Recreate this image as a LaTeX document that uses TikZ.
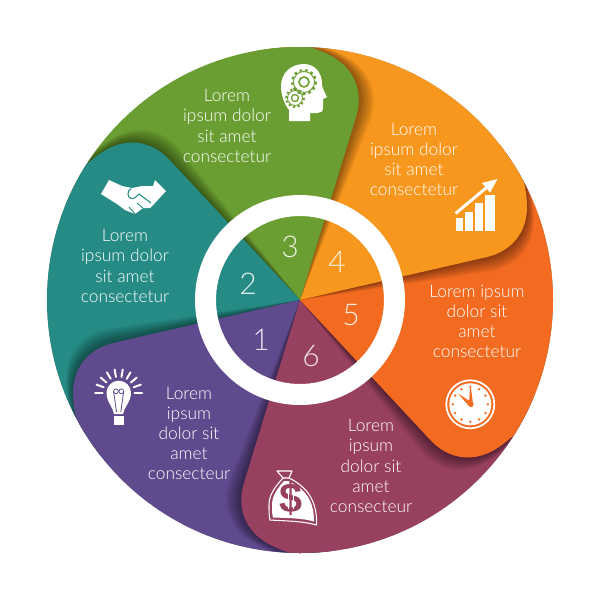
\documentclass[tikz,border=0pt]{standalone}
\usepackage{fontspec}
\setmainfont{Lato Light}
\newfontfamily\boldsign{Liberation Sans}

\definecolor{petalorange}{RGB}{248,151,29}
\definecolor{petalgreen}{RGB}{107,158,50}
\definecolor{petalteal}{RGB}{38,139,132}
\definecolor{petalpurple}{RGB}{96,74,142}
\definecolor{petalmaroon}{RGB}{152,64,96}
\definecolor{petalred}{RGB}{243,107,33}

\newcommand{\petalpath}{(300,300) -- (487,257) .. controls (512,251) and (527,232) .. (527,207) .. controls (527,199) and (526,192) .. (524,182) -- (540,60) -- (253,-37) -- cycle}
\newcommand{\petalshadow}[1]{%
  \begin{scope}[rotate around={#1:(300,300)}]
    \foreach \a in {1,...,15} \fill[black,opacity=0.03,rotate around={\a*0.3:(300,300)}] \petalpath;
  \end{scope}}
\newcommand{\petalfill}[2]{\fill[#2,rotate around={#1:(300,300)}] \petalpath;}

\tikzset{
  petaltext/.style={inner sep=0.75pt,align=center,text=white,font=\fontsize{13}{15.15}\selectfont},
  petalnum/.style={inner sep=0.75pt,text=white,text opacity=0.85,font=\fontsize{22.5}{24}\selectfont},
  iconline/.style={white,line width=1.5pt,line cap=round},
}

\begin{document}
\begin{tikzpicture}[x=0.75pt,y=0.75pt,yscale=-1,xscale=1]
\useasboundingbox (0,0) rectangle (600,600);

%Shape: Petals, cut to the outer disc
\begin{scope}
\clip (300,300) circle (253);
\petalfill{-60}{petalgreen}
\petalshadow{-120} \petalfill{-120}{petalteal}
\petalshadow{-180} \petalfill{-180}{petalpurple}
\petalshadow{-240} \petalfill{-240}{petalmaroon}
\petalshadow{-300} \petalfill{-300}{petalred}
\petalshadow{0} \petalfill{0}{petalorange}
%Shape: Green petal again, it lies over the orange one
\begin{scope}
\clip (300,300) -- (606,43) -- (400,-100) -- (300,-100) -- cycle;
\petalshadow{-60}
\end{scope}
\begin{scope}
\clip (300,300) -- (606,43) -- (500,-100) -- (231,-94) -- cycle;
\petalfill{-60}{petalgreen}
\end{scope}
\end{scope}

%Shape: Ring
\fill [white,even odd rule] (300,300) circle (105) (300,300) circle (84);

%Shape: Head with gears
\fill [white] (289,121) -- (289,110) .. controls (284,104) and (281,94) .. (281,86) .. controls (281,73) and (291,64) .. (304,64) .. controls (315,64) and (322,73) .. (322,84) .. controls (322,88) and (325,93) .. (327,97) -- (323,99) -- (323,108) .. controls (323,112) and (320,113) .. (317,113) -- (310,113) -- (310,121) -- cycle ;
\draw [petalgreen,line width=0.7pt] (304,82) circle (10.5);
\draw [petalgreen,line width=1.6pt,dash pattern=on 2pt off 2.3pt] (304,82) circle (12);
\draw [petalgreen,line width=1.2pt] (304,82) circle (5);
\draw [petalgreen,line width=0.7pt] (295,98) circle (7.5);
\draw [petalgreen,line width=1.4pt,dash pattern=on 1.6pt off 1.9pt] (295,98) circle (9);
\draw [petalgreen,line width=1pt] (295,98) circle (3.5);

%Shape: Bars and arrow
\fill [white] (456,218) rectangle (463,231) ;
\fill [white] (465,212) rectangle (473,231) ;
\fill [white] (475,203) rectangle (483,231) ;
\fill [white] (485,195) rectangle (495,231) ;
\draw [white,line width=2.2pt] (455.5,213.5) -- (486,188) ;
\fill [white] (497.5,179) -- (482,183) -- (490,192.5) -- cycle ;

%Shape: Clock
\draw [white,line width=1.3pt] (470.3,404.3) circle (24) ;
\fill [white] (470.3,404.3) circle (21) ;
\foreach \h in {30,60,...,360} \fill [petalred] (470.3,404.3) ++(\h:17.5) circle (1.3) ;
\fill [petalred] (469,404) -- (470,388) -- (471,388) -- (473,404) -- cycle ;
\fill [petalred] (472,402.5) -- (458,393.5) -- (469,406) -- cycle ;
\fill [petalred] (471,404.5) circle (2.6) ;

%Shape: Money bag
\draw [white,line width=0.8pt,line join=round] (283,478) .. controls (276,486) and (269,494) .. (269,505) .. controls (269,511) and (269,516) .. (270,520) .. controls (285,521) and (303,521) .. (316.5,525) .. controls (317,510) and (314,490) .. (289,478) ;
\draw [white,line width=0.8pt,line join=round] (283,478) -- (277,471) -- (292,471) -- (289,478) -- cycle ;
\fill [white] (284,481) .. controls (278,488) and (272,495) .. (272,505) .. controls (272,510) and (272,514) .. (273,517.5) .. controls (287,518) and (302,518) .. (314,521.5) .. controls (314,508) and (311,491) .. (288,481) -- cycle ;
\draw (291,499) node (dollarsign) [inner sep=0pt,text=petalmaroon,font=\boldsign\bfseries\fontsize{31}{31}\selectfont] {\$};
\draw [white,line width=0.7pt] (288.5,489) -- (288.5,509) ;
\draw [white,line width=0.7pt] (293,489) -- (293,509) ;

%Shape: Bulb
\foreach \r in {0,20,...,180} \draw [iconline] (118.7,392.7) ++(-\r:16) -- ++(-\r:7.5) ;
\fill [white] (114,414) .. controls (113,407) and (106.5,402) .. (106.5,392.7) .. controls (106.5,386) and (112,380.7) .. (118.7,380.7) .. controls (125.5,380.7) and (131,386) .. (131,392.7) .. controls (131,402) and (124,407) .. (123,414) -- cycle ;
\fill [white] (114,415.5) rectangle (123.5,424.5) ;
\draw [petalpurple,line width=0.6pt] (115.9,391.3) circle (2.4) ;
\draw [petalpurple,line width=0.6pt] (121.3,391.3) circle (2.4) ;
\draw [petalpurple,line width=0.6pt] (113.6,391.3) -- (116.5,412) ;
\draw [petalpurple,line width=0.6pt] (123.7,391.3) -- (120.8,412) ;

%Shape: Handshake
\fill [white,line join=round] (101,194) -- (109,180) -- (122,186) -- (132,188) -- (142,186) -- (153,186) -- (155,180) -- (166,191) -- (155,203) -- (150,208) -- (143,208) -- (135,214) -- (125,210) -- (117,204) -- cycle ;
\draw [petalteal,line width=0.8pt] (131,188.5) .. controls (127,191) and (127,197) .. (131,198.5) .. controls (135,199) and (137,196) .. (139,194) -- (151,203) ;
\draw [petalteal,line width=0.7pt] (143,208) -- (137,203) ;
\draw [petalteal,line width=0.7pt] (135,214) -- (129,207) ;

% Text Node
\draw (227,126) node (textgreen) [petaltext] {Lorem\\ipsum dolor\\sit amet\\consectetur};
% Text Node
\draw (414,159.5) node (textorange) [petaltext] {Lorem\\ipsum dolor\\sit amet\\consectetur};
% Text Node
\draw (477,321.5) node (textred) [petaltext] {Lorem ipsum\\dolor sit\\amet\\consectetur};
% Text Node
\draw (371,466) node (textmaroon) [petaltext] {Lorem\\ipsum\\dolor sit\\amet\\consecteur};
% Text Node
\draw (189,433.5) node (textpurple) [petaltext] {Lorem\\ipsum\\dolor sit\\amet\\consecteur};
% Text Node
\draw (125,266) node (textteal) [petaltext] {Lorem\\ipsum dolor\\sit amet\\consectetur};
% Text Node
\draw (261,340) node (numone) [petalnum] {1};
% Text Node
\draw (248,284) node (numtwo) [petalnum] {2};
% Text Node
\draw (290,247) node (numthree) [petalnum] {3};
% Text Node
\draw (337,262) node (numfour) [petalnum] {4};
% Text Node
\draw (351,315) node (numfive) [petalnum] {5};
% Text Node
\draw (311,356) node (numsix) [petalnum] {6};

\end{tikzpicture}
\end{document}
